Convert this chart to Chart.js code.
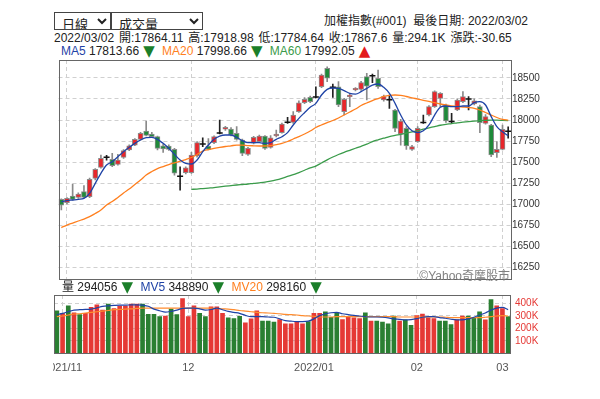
<!DOCTYPE html>
<html>
<head>
<meta charset="utf-8">
<script src="https://cdn.jsdelivr.net/npm/chart.js@4"></script>
<style>
  body { margin: 0; background: #fff; }
  #wrap { position: relative; width: 600px; height: 399px; overflow: hidden;
          font-family: "Liberation Sans", "Noto Sans CJK TC", sans-serif; color: #222; }
  .abs { position: absolute; white-space: nowrap; }
  select { position: absolute; top: 12px; height: 18px; font-size: 13px; padding: 0 0 0 3px;
           border: 1px solid #444; border-radius: 0; background: #fff; color: #222;
           font-family: "Noto Sans CJK TC", sans-serif; line-height: normal; box-sizing: border-box; }
  .txt { font-size: 12px; line-height: 14px; }
  .dn, .upc { font-family: "DejaVu Sans", sans-serif; font-size: 15px; line-height: 12px;
              display: inline-block; width: 13px; text-align: center; vertical-align: -1px; }
  .dn { color: #1b7f2a; }
  .upc { color: #e31a1c; }
  canvas { position: absolute; left: 53px; }
</style>
</head>
<body>
<div id="wrap">
  <select id="period" style="left:54px;width:57px"><option>日線</option></select>
  <select id="ind" style="left:111px;width:92px"><option>成交量</option></select>
  <div class="abs txt" style="right:72px;top:14px">加權指數(#001)&nbsp;&nbsp;最後日期: 2022/03/02</div>
  <div class="abs txt" style="left:54px;top:31px;word-spacing:1.5px">2022/03/02 開:17864.11 高:17918.98 低:17784.64 收:17867.6 量:294.1K 漲跌:-30.65</div>
  <div class="abs txt" style="left:61px;top:44px">
    <span style="color:#1f43a6">MA5</span> 17813.66 <span class="dn">▼</span>&nbsp;
    <span style="color:#ff7f1e">MA20</span> 17998.66 <span class="dn">▼</span>&nbsp;
    <span style="color:#3a9b4a">MA60</span> 17992.05 <span class="upc">▲</span>
  </div>
  <canvas id="kline" width="547" height="290" style="top:0"></canvas>
  <div class="abs" style="right:90px;top:266px;font-size:12px;color:#808080;font-family:'Liberation Sans','Noto Sans CJK TC',sans-serif">©Yahoo奇摩股市</div>
  <div class="abs txt" style="left:62px;top:280px">
    <span>量</span> 294056 <span class="dn">▼</span>&nbsp;
    <span style="color:#1f43a6">MV5</span> 348890 <span class="dn">▼</span>&nbsp;
    <span style="color:#ff7f1e">MV20</span> 298160 <span class="dn">▼</span>
  </div>
  <canvas id="vol" width="547" height="114" style="top:285px"></canvas>
</div>
<script>
// trading days shown (2021/10/29 ~ 2022/03/02)
const dates = [
  '2021/10/29',
  '2021/11/01','2021/11/02','2021/11/03','2021/11/04','2021/11/05','2021/11/08','2021/11/09','2021/11/10','2021/11/11','2021/11/12',
  '2021/11/15','2021/11/16','2021/11/17','2021/11/18','2021/11/19','2021/11/22','2021/11/23','2021/11/24','2021/11/25','2021/11/26',
  '2021/11/29','2021/11/30',
  '2021/12/01','2021/12/02','2021/12/03','2021/12/06','2021/12/07','2021/12/08','2021/12/09','2021/12/10','2021/12/13','2021/12/14',
  '2021/12/15','2021/12/16','2021/12/17','2021/12/20','2021/12/21','2021/12/22','2021/12/23','2021/12/24','2021/12/27','2021/12/28',
  '2021/12/29','2021/12/30',
  '2022/01/03','2022/01/04','2022/01/05','2022/01/06','2022/01/07','2022/01/10','2022/01/11','2022/01/12','2022/01/13','2022/01/14',
  '2022/01/17','2022/01/18','2022/01/19','2022/01/20','2022/01/21','2022/01/24','2022/01/25','2022/01/26',
  '2022/02/07','2022/02/08','2022/02/09','2022/02/10','2022/02/11','2022/02/14','2022/02/15','2022/02/16','2022/02/17','2022/02/18',
  '2022/02/21','2022/02/22','2022/02/23','2022/02/24','2022/02/25',
  '2022/03/01','2022/03/02'
];

const opens = [
  17059,17019,17098,17083,17150,17090,17308,17439,17555,17534,
  17474,17557,17644,17703,17771,17869,17834,17802,17695,17692,
  17652,17338,17375,17375,17573,17710,17692,17731,17843,17890,
  17893,17842,17763,17593,17724,17743,17810,17676,17810,17850,
  17970,17972,18098,18205,18268,18268,18395,18613,18386,18395,
  18098,18277,18356,18364,18514,18520,18495,18237,18235,18119,
  17834,17901,17652,17743,17966,18059,18158,18257,18178,17978,
  18119,18217,18244,18190,18158,17961,17941,17612,17652,17864.11
];
const highs = [
  17065,17080,17241,17135,17221,17310,17425,17585,17581,17605,
  17593,17650,17705,17780,17855,17988,17854,17810,17712,17705,
  17664,17446,17445,17617,17745,17790,17780,17812,18000,17925,
  17910,17921,17775,17675,17805,17820,17815,17815,17881,17965,
  18032,18099,18229,18265,18285,18395,18545,18632,18427,18455,
  18257,18317,18385,18460,18554,18546,18593,18297,18297,18127,
  18008,17921,17700,17921,18059,18170,18345,18324,18190,18079,
  18250,18336,18277,18250,18178,18065,17949,17743,17941,17918.98
];
const lows = [
  16932,17005,17050,17070,17075,17080,17290,17430,17525,17446,
  17465,17545,17635,17695,17760,17810,17790,17644,17617,17640,
  17347,17169,17360,17365,17560,17683,17645,17720,17834,17878,
  17810,17762,17576,17580,17715,17730,17650,17665,17800,17845,
  17960,17960,18090,18195,18205,18262,18385,18455,18269,18158,
  18059,18158,18345,18350,18237,18443,18376,18225,18139,17861,
  17703,17652,17640,17735,17961,18050,18150,18158,17970,17961,
  18110,18205,18119,18180,17850,17950,17565,17557,17644,17784.64
];
const closes = [
  16991,17071,17059,17122,17083,17296,17415,17546,17558,17458,
  17525,17636,17695,17771,17842,17818,17802,17664,17656,17652,
  17368,17334,17434,17585,17731,17714,17652,17802,17846,17913,
  17822,17771,17605,17664,17795,17810,17664,17790,17834,17953,
  17974,18059,18205,18246,18217,18272,18534,18495,18390,18178,
  18246,18297,18376,18443,18403,18524,18395,18277,18239,17901,
  17988,17692,17684,17901,17970,18158,18336,18317,17988,17982,
  18237,18277,18248,18229,17968,18040,17585,17652,17889,17867.6
];

const ma5 = [
  17031,17043,17051,17059,17071,17130,17249,17368,17466,17505,
  17565,17624,17676,17723,17763,17790,17795,17771,17723,17664,
  17593,17525,17486,17478,17525,17624,17703,17771,17810,17822,
  17822,17795,17755,17731,17731,17731,17723,17731,17771,17802,
  17850,17941,18020,18087,18151,18198,18297,18364,18380,18376,
  18348,18316,18308,18336,18376,18415,18427,18388,18316,18198,
  18059,17941,17873,17850,17873,17941,18059,18151,18166,18158,
  18158,18166,18166,18206,18217,18178,18040,17921,17861,17813.66
];
const ma20 = [
  16724,16754,16778,16802,16825,16853,16891,16932,16991,17033,
  17080,17134,17181,17235,17288,17347,17389,17424,17448,17472,
  17492,17511,17531,17555,17591,17632,17650,17664,17676,17686,
  17694,17703,17703,17697,17694,17692,17692,17697,17709,17723,
  17745,17775,17802,17834,17869,17911,17941,17970,17994,18024,
  18059,18095,18130,18172,18202,18231,18255,18279,18293,18297,
  18293,18279,18263,18249,18234,18220,18205,18190,18178,18168,
  18160,18154,18148,18139,18119,18089,18059,18030,18008,17998.66
];
const ma60 = [
  null,null,null,null,null,null,null,null,null,null,
  null,null,null,null,null,null,null,null,null,null,
  null,null,null,17178,17181,17187,17193,17199,17207,17215,
  17222,17229,17235,17241,17249,17255,17262,17274,17290,17309,
  17330,17351,17377,17404,17433,17454,17490,17528,17561,17591,
  17617,17641,17665,17688,17713,17744,17765,17784,17804,17818,
  17830,17845,17859,17872,17891,17907,17922,17938,17949,17957,
  17967,17975,17982,17988,17993,17996,17999,17998,17995,17992.05
];

// volume in K (thousand), colour flag 1 = red, 0 = green
const volume = [
  340,319,379,324,309,319,366,387,345,392,
  358,376,376,392,392,392,311,311,293,298,
  353,309,436,293,379,319,293,371,371,319,
  283,277,296,243,275,340,257,257,249,270,
  236,236,254,236,254,319,319,332,288,324,
  270,296,283,277,324,257,257,249,236,298,
  257,267,223,301,314,283,277,257,257,230,
  267,298,298,288,332,267,428,379,358,294.056
];
const volUp = [
  0,1,0,1,0,1,1,1,1,0, 1,1,1,1,1,0,0,0,0,1,
  0,0,1,1,1,0,0,1,1,1, 0,0,0,1,1,1,0,0,0,1,
  1,1,1,1,0,1,1,0,0,0, 1,1,1,1,0,1,0,0,0,0,
  1,0,0,1,1,1,1,0,0,0, 1,1,0,0,0,1,0,1,1,0
];
const mv5 = [
  309,319,332,345,348,350,353,363,374,379,
  382,384,384,387,387,384,376,353,340,329,
  335,345,358,361,361,355,345,350,361,348,
  335,327,319,303,293,293,293,290,288,275,
  262,257,254,254,257,275,301,316,324,327,
  316,309,303,298,293,290,290,288,283,275,
  272,267,270,277,288,293,293,285,280,272,
  267,267,275,288,306,322,345,361,366,348.89
];
const mv20 = [
  293,298,306,314,316,322,327,332,337,342,
  348,350,353,355,358,361,361,361,361,361,
  361,361,361,361,361,361,361,361,358,355,
  353,348,342,337,332,327,324,322,319,316,
  311,309,306,301,298,296,290,290,290,293,
  293,293,293,293,293,293,293,293,293,293,
  290,290,290,290,290,290,290,290,288,285,
  285,285,285,285,285,288,293,298,301,298.16
];

const priceTicks = [16250, 16500, 16750, 17000, 17250, 17500, 17750, 18000, 18250, 18500];
const volTicks = [100, 200, 300, 400];
const tickIndex = [1, 23, 45, 63, 78];
const tickText = ['2021/11', '12', '2022/01', '02', '03'];

const RED = '#e8262b', GREEN = '#1f8a3a';
const GRID = '#d0d0d0';
const isDoji = i => Math.abs(closes[i] - opens[i]) < 8;

const frame = {
  id: 'frame',
  afterDraw(chart) {
    const a = chart.chartArea, ctx = chart.ctx;
    ctx.save();
    ctx.strokeStyle = '#666';
    ctx.lineWidth = 1;
    ctx.strokeRect(Math.round(a.left) + 0.5, Math.round(a.top) + 0.5,
                   Math.round(a.width) - 1, Math.round(a.height) - 1);
    ctx.restore();
  }
};

const monthGrid = c => tickIndex.includes(c.index) ? GRID : 'rgba(0,0,0,0)';

new Chart(document.getElementById('kline'), {
  type: 'bar',
  data: {
    labels: dates,
    datasets: [
      {
        type: 'line', label: 'MA5', data: ma5, order: 1,
        borderColor: '#1f43a6', borderWidth: 1.3, pointRadius: 0, cubicInterpolationMode: 'monotone'
      },
      {
        type: 'line', label: 'MA20', data: ma20, order: 1,
        borderColor: '#ff7f1e', borderWidth: 1.3, pointRadius: 0, cubicInterpolationMode: 'monotone'
      },
      {
        type: 'line', label: 'MA60', data: ma60, order: 1,
        borderColor: '#3a9b4a', borderWidth: 1.3, pointRadius: 0, cubicInterpolationMode: 'monotone'
      },
      {
        type: 'line', label: 'doji', order: 2, showLine: false,
        data: closes.map((c, i) => isDoji(i) ? c : null),
        pointStyle: 'line', pointRadius: 3, pointBorderColor: '#111', pointBorderWidth: 1.5
      },
      {
        label: 'body', order: 3, grouped: false, barThickness: 5,
        data: opens.map((o, i) => [o, closes[i]]),
        backgroundColor: opens.map((o, i) => isDoji(i) ? 'rgba(0,0,0,0)' : (closes[i] > o ? RED : GREEN)),
        borderColor: opens.map((o, i) => isDoji(i) ? 'rgba(0,0,0,0)' : '#8c8c8c'),
        borderWidth: 1, borderSkipped: false
      },
      {
        label: 'wick', order: 4, grouped: false, barThickness: 1,
        data: lows.map((l, i) => [l, highs[i]]),
        backgroundColor: lows.map((l, i) => isDoji(i) ? '#222' : '#8a8a8a')
      }
    ]
  },
  options: {
    responsive: false,
    animation: false,
    layout: { padding: { left: 1, right: 44, top: 60, bottom: 10 } },
    plugins: { legend: { display: false }, tooltip: { enabled: false } },
    scales: {
      x: {
        offset: true,
        grid: { offset: false, drawTicks: false, color: monthGrid },
        border: { display: false, dash: [4, 3] },
        ticks: { display: false, autoSkip: false },
        afterFit: s => { s.height = 0; s.paddingLeft = 0; s.paddingRight = 0; }
      },
      y: {
        position: 'right',
        min: 16102, max: 18712,
        afterBuildTicks: s => { s.ticks = priceTicks.map(v => ({ value: v })); },
        afterFit: s => { s.width = 45; },
        grid: { color: GRID, drawTicks: false },
        border: { display: false, dash: [4, 3] },
        ticks: { padding: 1, color: '#333', font: { size: 10, family: 'Liberation Sans' },
                 callback: v => String(v) }
      }
    }
  },
  plugins: [frame]
});

new Chart(document.getElementById('vol'), {
  type: 'bar',
  data: {
    labels: dates,
    datasets: [
      {
        type: 'line', label: 'MV5', data: mv5, order: 1,
        borderColor: '#1f43a6', borderWidth: 1.2, pointRadius: 0, cubicInterpolationMode: 'monotone'
      },
      {
        type: 'line', label: 'MV20', data: mv20, order: 1,
        borderColor: '#ff8c2e', borderWidth: 1.2, pointRadius: 0, cubicInterpolationMode: 'monotone'
      },
      {
        label: 'volume', order: 2, barThickness: 4,
        data: volume,
        backgroundColor: volUp.map(u => u ? '#e53935' : '#2a7f32')
      }
    ]
  },
  options: {
    responsive: false,
    animation: false,
    layout: { padding: { left: 1, right: 44, top: 9, bottom: 0 } },
    plugins: { legend: { display: false }, tooltip: { enabled: false } },
    scales: {
      x: {
        offset: true,
        grid: { offset: false, drawTicks: false, color: monthGrid },
        border: { display: false, dash: [4, 3] },
        ticks: {
          autoSkip: false, maxRotation: 0, minRotation: 0, padding: 8,
          color: '#555', font: { size: 11, family: 'Liberation Sans' },
          callback: (v, i) => { const k = tickIndex.indexOf(i); return k >= 0 ? tickText[k] : ''; }
        },
        afterFit: s => { s.height = 45.5; s.paddingLeft = 0; s.paddingRight = 0; }
      },
      y: {
        position: 'right',
        min: 0, max: 465,
        afterBuildTicks: s => { s.ticks = volTicks.map(v => ({ value: v })); },
        afterFit: s => { s.width = 45; },
        grid: { color: GRID, drawTicks: false },
        border: { display: false, dash: [4, 3] },
        ticks: { padding: 4, color: '#e53935', font: { size: 10, family: 'Liberation Sans' },
                 callback: v => v + 'K' }
      }
    }
  },
  plugins: [frame]
});
</script>
</body>
</html>
